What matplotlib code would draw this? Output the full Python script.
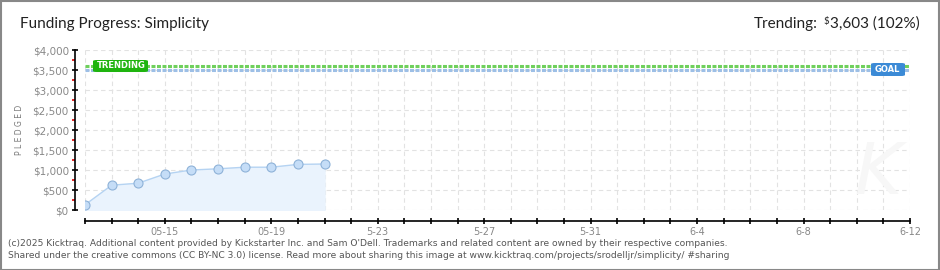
import numpy as np
import matplotlib.pyplot as plt
from matplotlib.patches import FancyBboxPatch, Rectangle
from matplotlib.ticker import FixedLocator, MultipleLocator

# data
days = np.arange(0, 10)            # day index, 0 = 05-12
pledged = [130, 620, 670, 900, 1000, 1030, 1070, 1070, 1140, 1150]
n_days = 31                        # 05-12 .. 06-12
tick_days = [3, 7, 11, 15, 19, 23, 27, 31]
tick_labels = ['05-15', '05-19', '5-23', '5-27', '5-31', '6-4', '6-8', '6-12']
trending = 3603
goal = 3500
y_ticks = np.arange(0, 4001, 500)
y_labels = ['$0', '$500', '$1,000', '$1,500', '$2,000', '$2,500', '$3,000', '$3,500', '$4,000']

W, H = 940, 270
fig = plt.figure(figsize=(W / 100, H / 100), dpi=100)
ax = fig.add_axes([85 / W, 60 / H, 825 / W, 160 / H])
ax.set_xlim(0, n_days)
ax.set_ylim(0, 4000)

# grid
for d in range(n_days + 1):
    ax.axvline(d, color='#e2e2e2', lw=0.8, dashes=(4, 3), zorder=0)
for v in y_ticks:
    ax.axhline(v, color='#e2e2e2', lw=0.8, dashes=(4, 3), zorder=0)

# pledged series
ax.fill_between(days, pledged, 0, color='#eaf3fd', zorder=1)
ax.plot(days, pledged, color='#b5d3f2', lw=1, zorder=2)
ax.plot(days, pledged, 'o', ms=6.5, mfc='#c5ddf7', mec='#8eb2d8', mew=0.8, zorder=3)

# trending / goal lines
ax.plot([0, n_days], [trending, trending], color='#6fd05c', lw=2.2, dashes=(1.3, 0.5), zorder=2, solid_capstyle='butt')
ax.plot([0, n_days], [goal, goal], color='#9dbfe6', lw=2.2, dashes=(1.3, 0.5), zorder=2, solid_capstyle='butt')

# badges
def badge(x0, y0, w, h, color, text):
    fig.patches.append(FancyBboxPatch((x0 / W, 1 - (y0 + h) / H), w / W, h / H,
                                      boxstyle='round,pad=0,rounding_size=0.004',
                                      transform=fig.transFigure, fc=color, ec='none', zorder=5))
    fig.text((x0 + 4) / W, 1 - (y0 + h / 2) / H, text, color='white', fontsize=6,
             fontweight='bold', va='center', ha='left', zorder=6)

badge(93, 60, 55, 12, '#1fb40f', 'TRENDING')
badge(871, 63, 34, 13, '#3b8ad6', 'GOAL')

# axes styling
for s in ['top', 'right']:
    ax.spines[s].set_visible(False)
ax.spines['left'].set_position(('outward', 7.2))
ax.spines['bottom'].set_position(('outward', 8))
ax.spines['left'].set_linewidth(1.2)
ax.spines['bottom'].set_linewidth(1.2)

ax.set_yticks(y_ticks)
ax.set_yticklabels(y_labels)
ax.yaxis.set_minor_locator(FixedLocator(np.arange(250, 4000, 500)))
ax.tick_params(axis='y', which='major', direction='inout', length=5, width=1.2,
               color='black', labelsize=7.5, labelcolor='#888888', pad=2)
ax.tick_params(axis='y', which='minor', direction='out', length=2.5, width=1.2, color='#e00000')

ax.set_xticks(tick_days)
ax.set_xticklabels(tick_labels)
ax.xaxis.set_minor_locator(MultipleLocator(1))
ax.tick_params(axis='x', which='both', direction='inout', length=5, width=1.2,
               color='black', labelsize=7, labelcolor='#888888', pad=2)

fig.text(20 / W, 1 - 130 / H, 'P L E D G E D', rotation=90, fontsize=5.5, color='#777777',
         ha='center', va='center')

# watermark
fig.text(878 / W, 1 - 175 / H, 'K', fontsize=52, fontstyle='italic', color='#f7f7f7',
         ha='center', va='center', zorder=0)

# title
fig.text(20 / W, 1 - 24 / H, 'Funding Progress: Simplicity', family='Lato', fontsize=11,
         color='#222222', ha='left', va='center')

# trending summary, right aligned
fig.canvas.draw()
r = fig.canvas.get_renderer()
t1 = fig.text(920 / W, 1 - 24 / H, '3,603 (102%)', family='Lato', fontsize=11,
              color='#222222', ha='right', va='center')
bb = t1.get_window_extent(renderer=r)
t2 = fig.text((bb.x0 - 1) / W, bb.y1 / H, r'\$', family='Lato', fontsize=7,
              color='#222222', ha='right', va='top')
bb2 = t2.get_window_extent(renderer=r)
fig.text((bb2.x0 - 6) / W, 1 - 24 / H, 'Trending:', family='Lato', fontsize=11,
         color='#222222', ha='right', va='center')

# footer
fig.text(8 / W, 1 - 243 / H,
         "(c)2025 Kicktraq. Additional content provided by Kickstarter Inc. and Sam O'Dell. "
         "Trademarks and related content are owned by their respective companies.",
         fontsize=6.6, color='#555555', ha='left', va='center')
fig.text(8 / W, 1 - 256 / H,
         "Shared under the creative commons (CC BY-NC 3.0) license. Read more about sharing "
         "this image at www.kicktraq.com/projects/srodelljr/simplicity/ #sharing",
         fontsize=6.6, color='#555555', ha='left', va='center')

# border
fig.patches.append(Rectangle((0.5 / W, 0.5 / H), 1 - 1.5 / W, 1 - 1.5 / H, transform=fig.transFigure,
                             fill=False, ec='#888888', lw=1.5, zorder=10))

fig.savefig('out.png', dpi=100)
